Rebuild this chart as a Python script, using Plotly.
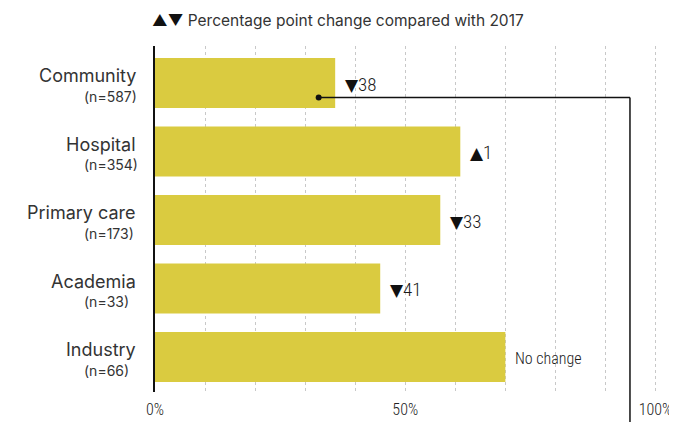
import plotly.graph_objects as go

categories = ["Community", "Hospital", "Primary care", "Academia", "Industry"]
sample_sizes = ["(n=587)", "(n=354)", "(n=173)", "(n=33)", "(n=66)"]
values = [36, 61, 57, 45, 70]
changes = [-38, 1, -33, -41, 0]
tick_vals = [0, 50, 100]
tick_text = ["0%", "50%", "100%"]
title_text = "Percentage point change compared with 2017"
connector_x = [32.7, 94.9]

BAR = "#dacb40"
TXT = "#333333"
COND = "Roboto Condensed, DejaVu Sans Condensed, sans-serif"
GROT = "Inter, Roboto, Noto Sans, sans-serif"
TRI = "DejaVu Sans"

ypos = list(range(len(categories)))
y_range = [4.51, -0.54]

fig = go.Figure()
fig.add_trace(go.Bar(
    x=values, y=ypos, orientation="h",
    marker=dict(color=BAR, line=dict(width=0)),
    hoverinfo="skip", showlegend=False,
))

def tri(sym):
    return ("<span style='font-family:%s;font-size:17px;font-weight:400;color:#111111'>%s</span>"
            % (TRI, sym))

def change_label(c):
    if c > 0:
        return tri("▲") + str(c)
    if c < 0:
        return tri("▼") + str(abs(c))
    return "No change"

for i, (v, c) in enumerate(zip(values, changes)):
    fig.add_annotation(
        x=v, y=i, xref="x", yref="y", text=change_label(c), showarrow=False,
        xanchor="left", yanchor="middle", xshift=8, yshift=-1,
        font=dict(family=COND, size=19 if c != 0 else 16, color="#1a1a1a", weight=300),
    )

for i, (cat, n) in enumerate(zip(categories, sample_sizes)):
    fig.add_annotation(
        x=0, y=i, xref="paper", yref="y", text=cat, showarrow=False,
        xanchor="right", yanchor="middle", xshift=-17, yshift=7.5,
        font=dict(family=GROT, size=18, color=TXT),
    )
    fig.add_annotation(
        x=0, y=i, xref="paper", yref="y", text=n, showarrow=False,
        xanchor="left", yanchor="middle", xshift=-73, yshift=-13,
        font=dict(family=GROT, size=14, color=TXT),
    )

fig.add_annotation(
    x=0, y=1, xref="paper", yref="paper",
    text="<span style='color:#111111'>▲▼</span> " + title_text,
    showarrow=False, xanchor="left", yanchor="middle", xshift=-5, yshift=26,
    font=dict(family=GROT, size=15.5, color=TXT),
)

# connector line from the Community bar
line_y = 0.21
fig.add_shape(type="line", xref="x", yref="y",
              x0=connector_x[0], x1=connector_x[1], y0=line_y, y1=line_y,
              line=dict(color="#111111", width=1.5))
paper_line_y = (y_range[0] - line_y) / (y_range[0] - y_range[1])
fig.add_shape(type="line", xref="x", yref="paper",
              x0=connector_x[1], x1=connector_x[1], y0=paper_line_y, y1=-0.12,
              line=dict(color="#111111", width=1.5))
fig.add_trace(go.Scatter(
    x=[connector_x[0]], y=[line_y], mode="markers",
    marker=dict(color="#111111", size=6), hoverinfo="skip", showlegend=False,
))

# the page body adds an 8px margin, so the figure is 8px smaller and its margins 8px less
fig.update_layout(
    width=669, height=414,
    margin=dict(l=147, r=20, t=38, b=30, autoexpand=False),
    paper_bgcolor="white", plot_bgcolor="white",
    bargap=0.27,
)
fig.update_xaxes(
    range=[0, 100.3], tickvals=tick_vals, ticktext=tick_text,
    showgrid=True, gridcolor="#c8c8c8", griddash="dot", gridwidth=1,
    minor=dict(dtick=10, tick0=0, showgrid=True, gridcolor="#c8c8c8", griddash="dot", gridwidth=1),
    zeroline=False, showline=False, ticks="", ticklabelstandoff=6,
    tickfont=dict(family=COND, size=16, color="#222222", weight=300),
    automargin=False, fixedrange=True,
)
fig.update_yaxes(
    range=y_range, showticklabels=False, showgrid=False, zeroline=False,
    showline=True, linecolor="#111111", linewidth=1.5, ticks="",
    automargin=False, fixedrange=True,
)

fig.write_html("out.html")
